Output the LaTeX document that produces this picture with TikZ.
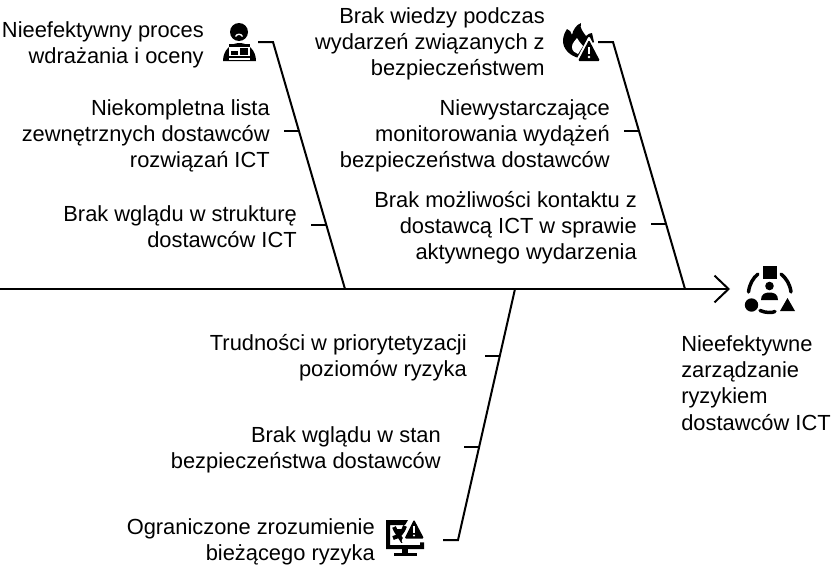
\documentclass[tikz,border=0pt]{standalone}
\usepackage{fontspec}
\setmainfont{Liberation Sans}
\usetikzlibrary{arrows.meta, positioning, calc}

\begin{document}
\begin{tikzpicture}[
    x=0.75pt,
    y=-0.75pt,
    cause/.style={align=right, anchor=east, inner sep=0pt, font=\fontsize{16.4pt}{19.6pt}\selectfont},
    effect/.style={align=left, anchor=north west, inner sep=0pt, font=\fontsize{16.4pt}{19.6pt}\selectfont},
    bone/.style={line width=1.5pt},
    spine/.style={line width=1.5pt, -{Straight Barb[length=10.5pt, width=20pt, line width=1.5pt]}},
    icon/.style={fill=black, draw=none}
]
    \useasboundingbox (0,0) rectangle (836,575);

    % Upper causes, left bone
    \node[cause] (proces) at (204,44.5) {Nieefektywny proces\\wdrażania i oceny};
    \node[cause] (lista) at (270,136) {Niekompletna lista\\zewnętrznych dostawców\\rozwiązań ICT};
    \node[cause] (struktura) at (297,226.5) {Brak wglądu w strukturę\\dostawców ICT};

    % Upper causes, right bone
    \node[cause] (wiedza) at (545,44) {Brak wiedzy podczas\\wydarzeń związanych z\\bezpieczeństwem};
    \node[cause] (monitoring) at (610,136) {Niewystarczające\\monitorowania wydążeń\\bezpieczeństwa dostawców};
    \node[cause] (kontakt) at (637,228) {Brak możliwości kontaktu z\\dostawcą ICT w sprawie\\aktywnego wydarzenia};

    % Lower causes
    \node[cause] (priorytety) at (467,358) {Trudności w priorytetyzacji\\poziomów ryzyka};
    \node[cause] (stan) at (441,449.5) {Brak wglądu w stan\\bezpieczeństwa dostawców};
    \node[cause] (ryzyko) at (375,542) {Ograniczone zrozumienie\\bieżącego ryzyka};

    % Effect
    \node[effect] (skutek) at (681,335.5) {Nieefektywne\\zarządzanie\\ryzykiem\\dostawców ICT};

    % Bone ends
    \coordinate (start) at (0,289);
    \coordinate (head) at (730,289);
    \coordinate (jointa) at (345,289);
    \coordinate (jointb) at (685,289);
    \coordinate (jointc) at (515,289);
    \coordinate (topa) at (273,42);
    \coordinate (topb) at (613,42);
    \coordinate (topc) at (458,540);
    \coordinate (taila) at (258,42);
    \coordinate (tailb) at (598,42);
    \coordinate (tailc) at (443,540);

    % Connections
    \draw[spine] (start) -- (head);
    \draw[bone] (taila) -- (topa) -- (jointa);
    \draw[bone] (tailb) -- (topb) -- (jointb);
    \draw[bone] (tailc) -- (topc) -- (jointc);

    % Ticks
    \coordinate (ticka) at ($(topa)!0.360!(jointa)$);
    \coordinate (tickb) at ($(topa)!0.741!(jointa)$);
    \coordinate (tickc) at ($(topb)!0.360!(jointb)$);
    \coordinate (tickd) at ($(topb)!0.737!(jointb)$);
    \coordinate (ticke) at ($(topc)!0.733!(jointc)$);
    \coordinate (tickf) at ($(topc)!0.3705!(jointc)$);
    \draw[bone] (ticka) -- +(-15,0);
    \draw[bone] (tickb) -- +(-15,0);
    \draw[bone] (tickc) -- +(-15,0);
    \draw[bone] (tickd) -- +(-15,0);
    \draw[bone] (ticke) -- +(-15,0);
    \draw[bone] (tickf) -- +(-15,0);

    % Person icon
    \fill[icon] (239,32) circle (9);
    \draw[white, line width=1pt] (235.5,36.5) .. controls (237,33.5) and (241,33.5) .. (242.5,36.5);
    \fill[icon] (223,61) .. controls (223,50) and (231,43) .. (239.5,43) .. controls (248,43) and (256,50) .. (256,61) -- cycle;
    \fill[white] (229,47) rectangle (250,60);
    \fill[icon] (229,47) -- (250,47) -- (250,44) -- (229,44) -- cycle;
    \fill[icon] (231,51) rectangle (238,55);
    \fill[icon] (240,48) rectangle (248,55);
    \fill[icon] (229,55.5) rectangle (250,57.5);

    % Fire icon
    \fill[icon] (567,29) .. controls (570,30) and (571,32) .. (572,35) .. controls (573,30) and (576,25) .. (581,23) .. controls (579,28) and (584,33) .. (586,36) .. controls (588,34) and (590,33) .. (592,33) -- (594,42) -- (582,50) -- (579,58) .. controls (570,56) and (563,49) .. (563,41) .. controls (563,36) and (565,32) .. (567,29) -- cycle;
    \fill[white] (572,47) .. controls (572,43) and (575,41) .. (577,38) .. controls (578,41) and (581,43) .. (583,46) -- (578,54) .. controls (575,53) and (572,51) .. (572,47) -- cycle;
    \draw[white, line width=1.5pt, line join=round, fill=white] (589,38) -- (576,62.5) -- (602,62.5) -- cycle;
    \fill[icon, rounded corners=1pt] (589,40) -- (578,61) -- (600,61) -- cycle;
    \fill[white] (588,46.5) rectangle (590,54);
    \fill[white] (589,57) circle (1.3);

    % Effect icon
    \fill[icon] (763,266) rectangle (776.5,279);
    \fill[icon] (751.5,305) circle (6.7);
    \fill[icon] (769.5,286) circle (4.3);
    \fill[icon] (761,300) .. controls (761,294) and (765,292.5) .. (769.5,292.5) .. controls (774,292.5) and (778,294) .. (778,300) -- cycle;
    \fill[icon] (780,311) -- (795,311) -- (787.5,298) -- cycle;
    \draw[line width=2.6pt, line cap=round] (758,274) .. controls (753,278) and (749.5,284) .. (748.5,292);
    \draw[line width=2.6pt, line cap=round] (781,274) .. controls (786,278) and (790,284) .. (791,292);
    \draw[line width=2.6pt, line cap=round] (760,310.5) .. controls (766,313) and (772,313) .. (775,311.5);

    % Monitor icon
    \fill[icon] (386,520) -- (408,520) -- (405,525) -- (390,525) -- (390,545) -- (420,545) -- (420,538) -- (424,538) -- (424,549) -- (386,549) -- cycle;
    \fill[icon] (402,549) rectangle (408,554);
    \fill[icon] (394,553) rectangle (417,556);
    \draw[line width=3pt] (394,527) .. controls (396,532) and (400,537) .. (403,542);
    \draw[line width=3pt] (405,526) .. controls (403,532) and (399,537) .. (393,538);
    \fill[icon] (396,529) rectangle (403,534);
    \draw[white, line width=2pt, line join=round, fill=white] (414,517) -- (403,541) -- (426,541) -- cycle;
    \fill[icon, rounded corners=1pt] (414,519.5) -- (404.5,538.5) -- (424,538.5) -- cycle;
    \fill[white] (413,526) rectangle (415,533);
    \fill[white] (414,535.5) circle (1.2);
\end{tikzpicture}
\end{document}
